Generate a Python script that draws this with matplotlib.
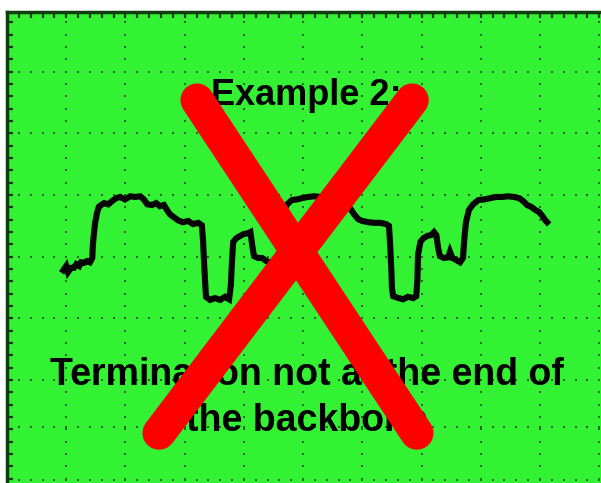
import numpy as np
import matplotlib
matplotlib.use('Agg')
import matplotlib.pyplot as plt

# Scope trace in divisions (x: time div, y: volt div)
trace_t = [0.95, 1.00, 1.03, 1.08, 1.13, 1.17, 1.22, 1.25, 1.30, 1.35, 1.40, 1.44,
           1.45, 1.47, 1.49, 1.52, 1.55, 1.59, 1.64, 1.71, 1.77, 1.84, 1.91, 1.99,
           2.08, 2.16, 2.25, 2.31, 2.37, 2.45, 2.52, 2.58, 2.65, 2.70, 2.75, 2.82,
           2.89, 2.97, 3.06, 3.14, 3.23, 3.29, 3.31, 3.33, 3.35, 3.36, 3.43, 3.51,
           3.60, 3.68, 3.75, 3.78, 3.80, 3.82, 3.87, 3.94, 4.00, 4.07, 4.11, 4.14,
           4.17, 4.24, 4.31, 4.38, 4.44, 4.51, 4.58, 4.61, 4.63, 4.65, 4.68, 4.73,
           4.81, 4.90, 4.98, 5.08, 5.19, 5.29, 5.39, 5.47, 5.54, 5.63, 5.71, 5.79,
           5.86, 5.93, 6.00, 6.10, 6.20, 6.30, 6.40, 6.45, 6.47, 6.49, 6.50, 6.52,
           6.61, 6.69, 6.77, 6.86, 6.91, 6.93, 6.94, 6.98, 7.03, 7.10, 7.16, 7.21,
           7.25, 7.28, 7.31, 7.38, 7.45, 7.48, 7.52, 7.58, 7.65, 7.70, 7.72, 7.75,
           7.80, 7.87, 7.96, 8.06, 8.16, 8.26, 8.36, 8.46, 8.56, 8.65, 8.72, 8.78,
           8.85, 8.92, 8.99, 9.04, 9.09, 9.12]
trace_v = [2.78, 2.85, 2.75, 2.82, 2.82, 2.88, 2.85, 2.91, 2.90, 2.93, 2.91, 2.98,
           3.19, 3.40, 3.56, 3.71, 3.81, 3.84, 3.87, 3.85, 3.90, 3.95, 3.97, 3.93,
           3.98, 3.97, 3.98, 3.93, 3.85, 3.84, 3.87, 3.82, 3.84, 3.76, 3.69, 3.64,
           3.59, 3.56, 3.58, 3.53, 3.55, 3.51, 3.27, 2.86, 2.54, 2.35, 2.30, 2.33,
           2.30, 2.35, 2.31, 2.54, 2.95, 3.24, 3.30, 3.34, 3.37, 3.38, 3.40, 3.19,
           3.01, 2.98, 2.98, 2.93, 2.91, 2.88, 2.86, 2.91, 3.27, 3.56, 3.76, 3.85,
           3.92, 3.93, 3.95, 3.97, 3.98, 3.97, 3.98, 3.93, 3.87, 3.85, 3.84, 3.79,
           3.69, 3.61, 3.58, 3.56, 3.55, 3.55, 3.53, 3.50, 3.19, 2.78, 2.49, 2.36,
           2.33, 2.31, 2.35, 2.33, 2.36, 2.62, 3.03, 3.24, 3.30, 3.34, 3.35, 3.40,
           3.35, 3.14, 3.01, 2.98, 2.99, 3.08, 2.98, 2.95, 2.91, 2.98, 3.27, 3.56,
           3.76, 3.85, 3.92, 3.93, 3.95, 3.97, 3.97, 3.98, 3.97, 3.95, 3.90, 3.84,
           3.81, 3.76, 3.72, 3.66, 3.59, 3.56]

# graticule lines of the scope screen
grid_x = [1, 2, 3, 4, 5, 6, 7, 8, 9, 10]
grid_y = [-0.62, 0.24, 1, 2, 3, 4, 5, 6]

title_text = "Example 2:"
caption_lines = ["Termination not at the end of", "the backbone"]

screen_green = '#33f233'
frame_green = '#0f3f0f'
dot_green = '#1f6a1c'

fig = plt.figure(figsize=(6.01, 4.83), dpi=100)
fig.patch.set_facecolor('white')
ax = fig.add_axes([7 / 601, 0, 594 / 601, 471 / 483])
ax.set_facecolor(screen_green)
ax.set_xlim(0, 10.03)
ax.set_ylim(-0.67, 6.97)

# frame: only left and top visible
for side in ['right', 'bottom']:
    ax.spines[side].set_visible(False)
for side in ['left', 'top']:
    ax.spines[side].set_color(frame_green)
    ax.spines[side].set_linewidth(2.5)

# small tick marks along the frame, 5 per division
ax.set_xticks([])
ax.set_yticks([])
ax.set_xticks(np.arange(0.2, 10.03, 0.2), minor=True)
ax.set_yticks(np.arange(-0.6, 6.97, 0.2), minor=True)
ax.tick_params(which='minor', direction='in', length=4.5, width=1.6,
               color=frame_green, left=True, top=True, bottom=False, right=False,
               labelleft=False, labelbottom=False)

# dotted graticule
minor_x = np.arange(0.2, 10.03, 0.2)
minor_y = np.arange(-0.6, 6.97, 0.2)
for gx in grid_x:
    ax.plot(np.full(len(minor_y), gx), minor_y, ls='none', marker='s',
            ms=1.8, color=dot_green, mew=0, zorder=1)
for gy in grid_y:
    ax.plot(minor_x, np.full(len(minor_x), gy), ls='none', marker='s',
            ms=1.8, color=dot_green, mew=0, zorder=1)

# the waveform
ax.plot(trace_t, trace_v, color='#050505', lw=4.4, solid_joinstyle='miter', zorder=2)

# texts (kept inside the axes so the cross can sit on top)
ax.text(306 / 601, 1 - 105 / 483, title_text, ha='center', va='baseline',
        transform=fig.transFigure, fontsize=26, fontweight='bold',
        family='Liberation Sans', zorder=3)
for line, base in zip(caption_lines, [385, 431]):
    ax.text(307 / 601, 1 - base / 483, line, ha='center', va='baseline',
            transform=fig.transFigure, fontsize=27, fontweight='bold',
            family='Liberation Sans', zorder=3)

# big red cross on top
ax.plot([0.320, 0.690], [0.813, 0.106], transform=ax.transAxes, color='#ff0000',
        lw=24, solid_capstyle='round', clip_on=False, zorder=10)
ax.plot([0.682, 0.256], [0.813, 0.106], transform=ax.transAxes, color='#ff0000',
        lw=24, solid_capstyle='round', clip_on=False, zorder=10)

plt.savefig('out.png', dpi=100, facecolor='white')
